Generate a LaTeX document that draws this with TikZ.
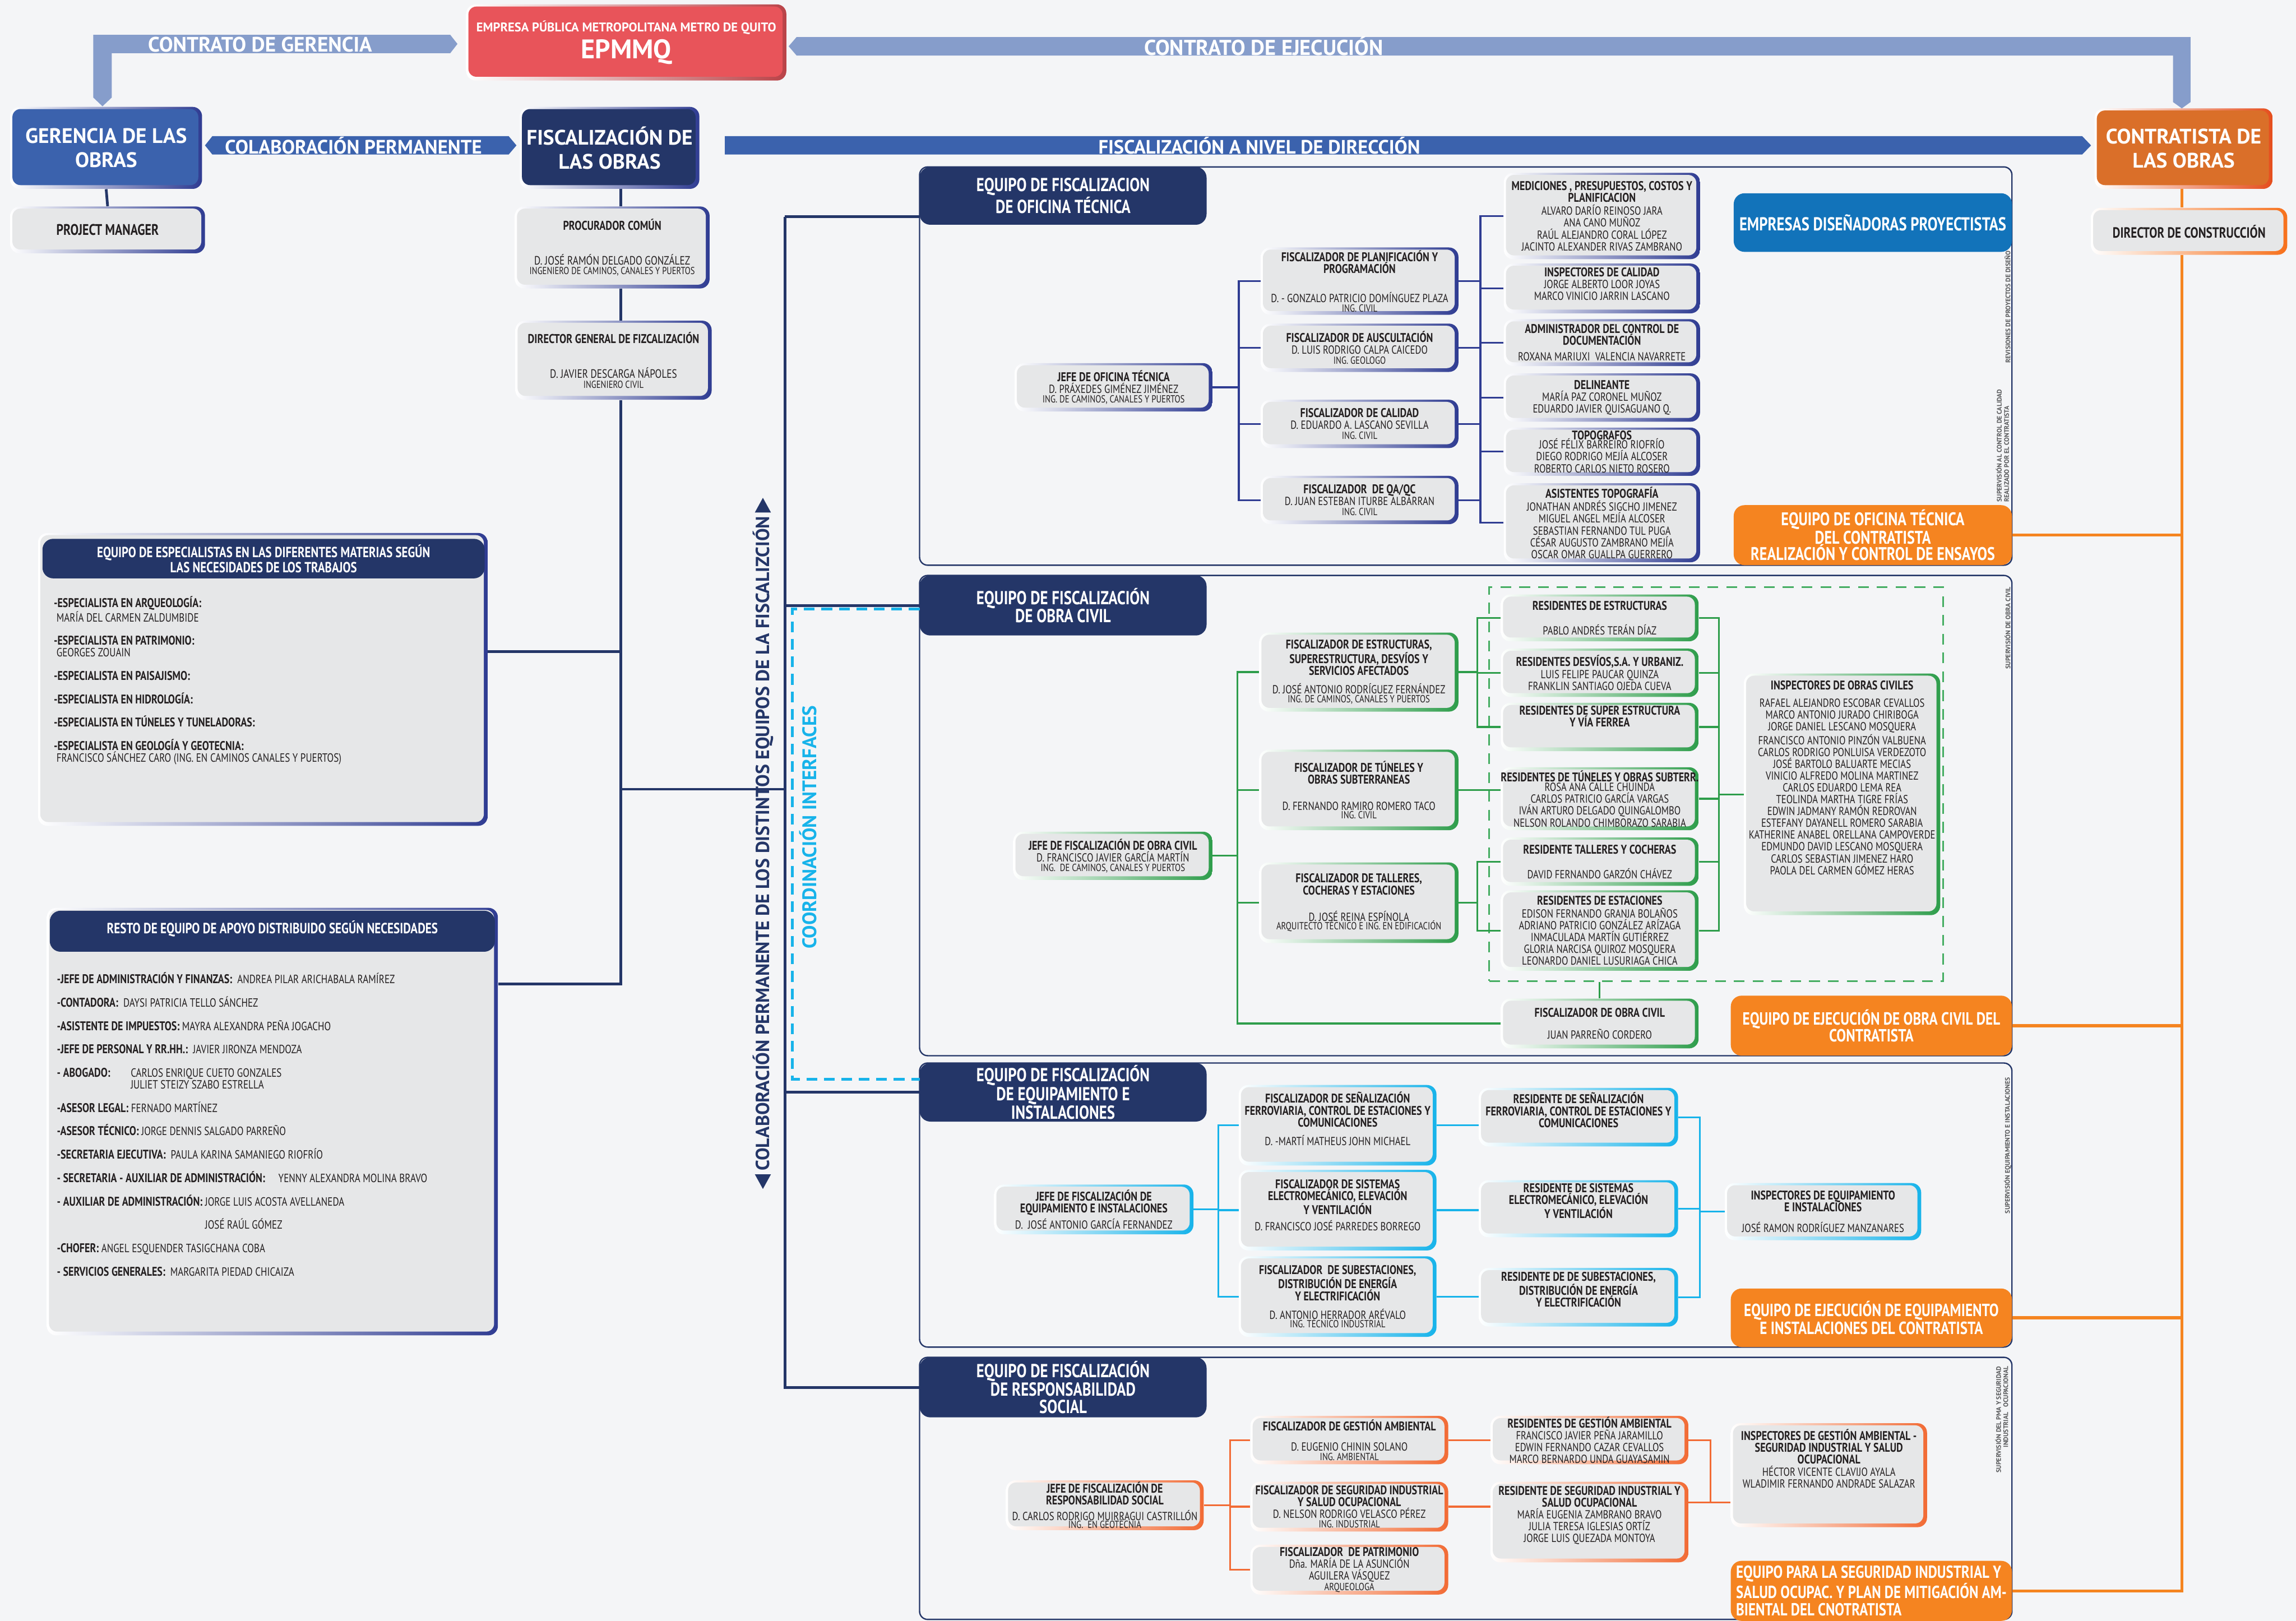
\documentclass[tikz,border=0pt]{standalone}
\usepackage{fontspec}
\setmainfont{PT Sans}
\newfontfamily\cnd[FakeStretch=0.8]{PT Sans}
\usetikzlibrary{positioning}

\definecolor{bgc}{HTML}{F4F5F7}
\definecolor{navyd}{HTML}{243668}
\definecolor{navyb}{HTML}{2F3C92}
\definecolor{blueM}{HTML}{3B62AD}
\definecolor{blueL}{HTML}{869DCB}
\definecolor{redE}{HTML}{E8545A}
\definecolor{orC}{HTML}{DA6F29}
\definecolor{orB}{HTML}{F58420}
\definecolor{blueE}{HTML}{1273BA}
\definecolor{boxg}{HTML}{E6E7E8}
\definecolor{grn}{HTML}{2E9D4B}
\definecolor{grnd}{HTML}{45AD62}
\definecolor{cyn}{HTML}{17B3EA}
\definecolor{ors}{HTML}{F26B35}
\definecolor{txt}{HTML}{231F20}
\definecolor{vgray}{HTML}{58595B}

\newcommand\pxu{0.03828cm}
\newcommand\bx{\cnd\fontsize{8.7}{8.8}\selectfont}
\newcommand\tb[1]{{\fontsize{9.4}{8.8}\selectfont\bfseries #1}}
\newcommand\sm{\fontsize{7.7}{8}\selectfont}

\begin{document}
\begin{tikzpicture}[x=0.03828cm, y=-0.03828cm,
  every node/.style={text=txt},
  place/.style n args={4}{at={({(#1+#3)/2},{(#2+#4)/2})},
      minimum width={(#3-#1)*\pxu}, minimum height={(#4-#2)*\pxu}},
  gbox/.style 2 args={rounded corners=7pt, inner sep=0pt, align=center,
      left color=white, right color=#1,
      path picture={\fill[#2, rounded corners=6pt]
        ([shift={(1.6pt,2.8pt)}]path picture bounding box.south west) rectangle
        ([shift={(-2.8pt,-1.6pt)}]path picture bounding box.north east);}},
  nv/.style={gbox={navyb}{boxg}, font=\bx},
  gr/.style={gbox={grn}{boxg}, font=\bx},
  cy/.style={gbox={cyn}{boxg}, font=\bx},
  os/.style={gbox={ors}{boxg}, font=\bx},
  bigtxt/.style={text=white, font=\fontsize{15.6}{18}\selectfont\bfseries},
  bandtxt/.style={text=white, inner sep=0pt, font=\fontsize{15.5}{16}\selectfont\bfseries},
  hdr/.style={fill=navyd, rounded corners=8pt, text=white, align=center, inner sep=0pt,
      font=\cnd\fontsize{14}{13.4}\selectfont\bfseries},
  orbox/.style={fill=orB, rounded corners=8pt, text=white, align=center, inner sep=0pt,
      font=\cnd\fontsize{13.6}{12.4}\selectfont\bfseries},
  panel/.style={draw=navyd, line width=1pt, rounded corners=6pt},
  navyline/.style={draw=navyd, line width=2pt},
  otline/.style={draw=navyb, line width=1.3pt},
  ocline/.style={draw=grn, line width=1.3pt},
  eqline/.style={draw=cyn, line width=1.3pt},
  rsline/.style={draw=ors, line width=1.3pt},
  orline/.style={draw=orB, line width=2.2pt},
  sidetxt/.style={rotate=90, inner sep=0pt, text=vgray, font=\fontsize{4.9}{5.4}\selectfont\bfseries},
  listtxt/.style={anchor=north west, align=left, inner sep=0pt, font=\cnd\fontsize{8.9}{8.7}\selectfont}]

\fill[bgc] (0,0) rectangle (1568,1107);
\useasboundingbox (0,0) rectangle (1568,1107);

% contract bands
\fill[blueL] (63.7,23.8) -- (307.5,23.8) -- (312.4,30) -- (307.5,36.3) -- (76.3,36.3)
  -- (76.3,66.6) -- (70,72.6) -- (63.7,66.6) -- cycle;
\fill[blueL] (538.6,31.6) -- (544,25.3) -- (1496,25.3) -- (1496,69.7) -- (1490,74)
  -- (1484,69.7) -- (1484,37.9) -- (544,37.9) -- cycle;
\fill[blueM] (140,99.3) -- (145,93) -- (347.4,93) -- (352.7,99.3) -- (347.4,105.5) -- (145,105.5) -- cycle;
\fill[blueM] (495,93) -- (1422,93) -- (1428,99.3) -- (1422,105.5) -- (495,105.5) -- cycle;
\node[bandtxt] (tGer) at (177.6,30.4) {CONTRATO DE GERENCIA};
\node[bandtxt, font=\fontsize{16}{16}\selectfont\bfseries] (tEje) at (863,31.6) {CONTRATO DE EJECUCIÓN};
\node[bandtxt, font=\fontsize{14.5}{15}\selectfont\bfseries] (tCol) at (241.4,99.3) {COLABORACIÓN PERMANENTE};
\node[bandtxt, font=\fontsize{14.4}{15}\selectfont\bfseries] (tDir) at (860,99.3) {FISCALIZACIÓN A NIVEL DE DIRECCIÓN};

% top level
\node[gbox={redE!80!black}{redE}, place={318.4}{3}{537}{55}, text=white] (epmmq)
  {{\fontsize{9.4}{10}\selectfont\bfseries EMPRESA PÚBLICA METROPOLITANA METRO DE QUITO}\\[3pt]{\fontsize{20}{20}\selectfont\bfseries EPMMQ}};
\node[gbox={navyb}{blueM}, place={7}{73}{138}{129}, bigtxt] (ger) {GERENCIA DE LAS\\OBRAS};
\node[gbox={navyb}{navyd}, place={355}{73}{477.6}{129}, bigtxt] (fisc) {FISCALIZACIÓN DE\\LAS OBRAS};
\node[gbox={orC!70!red}{orC}, place={1430.5}{74}{1552}{129}, bigtxt] (cont) {CONTRATISTA DE\\LAS OBRAS};
\node[nv, place={7}{141}{140}{173}, font=\cnd\fontsize{11.4}{12}\selectfont\bfseries] (pm) {PROJECT MANAGER};
\node[nv, place={351.6}{141}{484.6}{197}] (proc)
  {{\fontsize{9.5}{10}\selectfont\bfseries PROCURADOR COMÚN}\\[17pt]{\fontsize{9}{9.5}\selectfont D. JOSÉ RAMÓN DELGADO GONZÁLEZ}\\[-1.4pt]{\fontsize{7.6}{8}\selectfont INGENIERO DE CAMINOS, CANALES Y PUERTOS}};
\node[nv, place={352}{219}{486}{273}] (dirg)
  {{\fontsize{9.5}{10}\selectfont\bfseries DIRECTOR GENERAL DE FIZCALIZACIÓN}\\[17pt]{\fontsize{9}{9.5}\selectfont D. JAVIER DESCARGA NÁPOLES}\\[-1.4pt]{\fontsize{7.6}{8}\selectfont INGENIERO CIVIL}};
\node[gbox={orB!85!red}{boxg}, place={1428}{142}{1562}{174}, font=\cnd\fontsize{11}{12}\selectfont\bfseries] (dirc) {DIRECTOR DE CONSTRUCCIÓN};

% left support teams
\node[nv, place={26}{364}{333}{564}] (esp) {};
\node[hdr, place={29}{368}{331}{395}, font=\cnd\fontsize{10.9}{10}\selectfont\bfseries] (espH)
  {EQUIPO DE ESPECIALISTAS EN LAS DIFERENTES MATERIAS SEGÚN\\LAS NECESIDADES DE LOS TRABAJOS};
\node[listtxt] (espL) at (36.6,407) {%
  \tb{-ESPECIALISTA EN ARQUEOLOGÍA:}\\
  \hspace*{2pt}MARÍA DEL CARMEN ZALDUMBIDE\\[8.7pt]
  \tb{-ESPECIALISTA EN PATRIMONIO:}\\
  \hspace*{2pt}GEORGES ZOUAIN\\[8.7pt]
  \tb{-ESPECIALISTA EN PAISAJISMO:}\\[8.7pt]
  \tb{-ESPECIALISTA EN HIDROLOGÍA:}\\[8.7pt]
  \tb{-ESPECIALISTA EN TÚNELES Y TUNELADORAS:}\\[8.7pt]
  \tb{-ESPECIALISTA EN GEOLOGÍA Y GEOTECNIA:}\\
  \hspace*{2pt}FRANCISCO SÁNCHEZ CARO (ING. EN CAMINOS CANALES Y PUERTOS)};

\node[nv, place={32}{620}{340}{912}] (resto) {};
\node[hdr, place={34}{622}{338}{650}, font=\cnd\fontsize{11}{10}\selectfont\bfseries] (restoH)
  {RESTO DE EQUIPO DE APOYO DISTRIBUIDO SEGÚN NECESIDADES\\[-4pt]\mbox{}};
\node[listtxt] (restoL) at (38.7,664) {%
  \tb{-JEFE DE ADMINISTRACIÓN Y FINANZAS:}\ \ ANDREA PILAR ARICHABALA RAMÍREZ\\[8.7pt]
  \tb{-CONTADORA:}\ \ DAYSI PATRICIA TELLO SÁNCHEZ\\[8.7pt]
  \tb{-ASISTENTE DE IMPUESTOS:} MAYRA ALEXANDRA PEÑA JOGACHO\\[8.7pt]
  \tb{-JEFE DE PERSONAL Y RR.HH.:}\ \ JAVIER JIRONZA MENDOZA\\[8.7pt]
  \makebox[1.93cm][l]{\tb{- ABOGADO:}}CARLOS ENRIQUE CUETO GONZALES\\
  \hspace*{1.93cm}JULIET STEIZY SZABO ESTRELLA\\[8.7pt]
  \tb{-ASESOR LEGAL:} FERNADO MARTÍNEZ\\[8.7pt]
  \tb{-ASESOR TÉCNICO:} JORGE DENNIS SALGADO PARREÑO\\[8.7pt]
  \tb{-SECRETARIA EJECUTIVA:}\ \ PAULA KARINA SAMANIEGO RIOFRÍO\\[8.7pt]
  \tb{- SECRETARIA - AUXILIAR DE ADMINISTRACIÓN:}\hspace{0.35cm}YENNY ALEXANDRA MOLINA BRAVO\\[8.7pt]
  \tb{- AUXILIAR DE ADMINISTRACIÓN:} JORGE LUIS ACOSTA AVELLANEDA\\[8.7pt]
  \phantom{\tb{- AUXILIAR DE ADMINISTRACIÓN:} }JOSÉ RAÚL GÓMEZ\\[8.7pt]
  \tb{-CHOFER:} ANGEL ESQUENDER TASIGCHANA COBA\\[8.7pt]
  \tb{- SERVICIOS GENERALES:}\ \ MARGARITA PIEDAD CHICAIZA};

% team panels
\draw[panel] (628,114) rectangle (1374,386);
\draw[panel] (628,393) rectangle (1374,721);
\draw[panel] (628,726) rectangle (1374,920);
\draw[panel] (628,927) rectangle (1374,1106);
\node[hdr, place={628}{114}{824}{153.5}] (hdOT) {EQUIPO DE FISCALIZACION\\DE OFICINA TÉCNICA};
\node[hdr, place={628}{393}{824}{434}] (hdOC) {EQUIPO DE FISCALIZACIÓN\\DE OBRA CIVIL};
\node[hdr, place={628}{726}{824}{766}, font=\cnd\fontsize{14}{13}\selectfont\bfseries] (hdEQ) {EQUIPO DE FISCALIZACIÓN\\DE EQUIPAMIENTO E\\INSTALACIONES};
\node[hdr, place={628}{927}{824}{968}, font=\cnd\fontsize{14}{13}\selectfont\bfseries] (hdRS) {EQUIPO DE FISCALIZACIÓN\\DE RESPONSABILIDAD\\SOCIAL};

% collaboration column
\node[rotate=90, text=navyd, font=\fontsize{14.1}{14}\selectfont\bfseries, inner sep=0pt] (colab) at (521,576)
  {COLABORACIÓN PERMANENTE DE LOS DISTINTOS EQUIPOS DE LA FISCALIZCIÓN};
\fill[navyd] (515.5,350) -- (526.5,350) -- (521,340) -- cycle;
\fill[navyd] (515.5,802) -- (526.5,802) -- (521,812) -- cycle;
\draw[cyn, line width=2pt, dash pattern=on 8pt off 5pt] (628,416) -- (541,416) -- (541,737) -- (628,737);
\node[rotate=90, text=cyn, font=\fontsize{14.6}{15}\selectfont\bfseries, inner sep=0pt] (coord) at (552,565) {COORDINACIÓN INTERFACES};

% oficina tecnica
\node[nv, place={693}{248}{828}{281}] (jefeOT)
  {\tb{JEFE DE OFICINA TÉCNICA}\\D. PRÁXEDES GIMÉNEZ JIMÉNEZ\\[-1.5pt]{\sm ING. DE CAMINOS, CANALES Y PUERTOS}};
\node[nv, place={861}{169}{996}{215}] (fisPlan)
  {\tb{FISCALIZADOR DE PLANIFICACIÓN Y}\\\tb{PROGRAMACIÓN}\\[13pt]D. - GONZALO PATRICIO DOMÍNGUEZ PLAZA\\[-2pt]{\sm ING. CIVIL}};
\node[nv, place={861}{221}{996}{254}] (fisAus)
  {\tb{FISCALIZADOR DE AUSCULTACIÓN}\\D. LUIS RODRIGO CALPA CAICEDO\\[-1.5pt]{\sm ING. GEOLOGO}};
\node[nv, place={861}{273}{996}{306}] (fisCal)
  {\tb{FISCALIZADOR DE CALIDAD}\\D. EDUARDO A. LASCANO SEVILLA\\[-1.5pt]{\sm ING. CIVIL}};
\node[nv, place={861}{325}{996}{358}] (fisQA)
  {\tb{FISCALIZADOR \ DE QA/QC}\\D. JUAN ESTEBAN ITURBE ALBARRAN\\[-1.5pt]{\sm ING. CIVIL}};
\node[nv, place={1027}{118}{1161}{177}] (medi)
  {\tb{MEDICIONES , PRESUPUESTOS, COSTOS Y}\\\tb{PLANIFICACION}\\[1pt]ALVARO DARÍO REINOSO JARA\\ANA CANO MUÑOZ\\RAÚL ALEJANDRO CORAL LÓPEZ\\JACINTO ALEXANDER RIVAS ZAMBRANO};
\node[nv, place={1027}{180}{1161}{214}] (inspCal)
  {\tb{INSPECTORES DE CALIDAD}\\JORGE ALBERTO LOOR JOYAS\\MARCO VINICIO JARRIN LASCANO\\[-2.3pt]\mbox{}};
\node[nv, place={1027}{218}{1161}{250}] (admDoc)
  {\tb{ADMINISTRADOR DEL CONTROL DE}\\\tb{DOCUMENTACIÓN}\\[3pt]ROXANA MARIUXI \ VALENCIA NAVARRETE};
\node[nv, place={1027}{255}{1161}{288}] (delin)
  {\tb{DELINEANTE}\\MARÍA PAZ CORONEL MUÑOZ\\EDUARDO JAVIER QUISAGUANO Q.};
\node[nv, place={1027}{292}{1161}{325}] (topo)
  {\tb{TOPOGRAFOS}\\[-2pt]JOSÉ FÉLIX BARREIRO RIOFRÍO\\DIEGO RODRIGO MEJÍA ALCOSER\\ROBERTO CARLOS NIETO ROSERO};
\node[nv, place={1027}{330}{1161}{384}] (asist)
  {\tb{ASISTENTES TOPOGRAFÍA}\\[1pt]JONATHAN ANDRÉS SIGCHO JIMENEZ\\MIGUEL ANGEL MEJÍA ALCOSER\\SEBASTIAN FERNANDO TUL PUGA\\CÉSAR AUGUSTO ZAMBRANO MEJÍA\\OSCAR OMAR GUALLPA GUERRERO};
\node[fill=blueE, rounded corners=8pt, text=white, inner sep=0pt, place={1184}{132}{1374}{172},
  font=\cnd\fontsize{13.9}{13}\selectfont\bfseries] (emp) {EMPRESAS DISEÑADORAS PROYECTISTAS};
\node[orbox, place={1184}{345}{1374}{386}] (orOT) {EQUIPO DE OFICINA TÉCNICA\\DEL CONTRATISTA\\REALIZACIÓN Y CONTROL DE ENSAYOS};
\node[sidetxt, anchor=west] (svRev) at (1371,248) {REVISIONES DE PROYECTOS DE DISEÑO};
\node[sidetxt, anchor=west, align=left] (svCal) at (1367.5,343) {SUPERVISIÓN AL CONTROL DE CALIDAD\\REALIZADO POR EL CONTRATISTA};

\coordinate (brOT) at (846,264.5);
\coordinate (brOT2) at (1011,264);
\draw[otline] (jefeOT.east) -- (brOT);
\foreach \n in {fisPlan,fisAus,fisCal,fisQA} {
  \draw[otline] (\n.west) -| (brOT);
  \draw[otline] (\n.east) -| (brOT2);
}
\foreach \n in {medi,inspCal,admDoc,delin,topo,asist}
  \draw[otline] (\n.west) -| (brOT2);

% obra civil
\node[draw=grnd, line width=1.2pt, dash pattern=on 8pt off 6pt, place={1017}{401}{1327}{670}] (dashOC) {};
\node[gr, place={692}{568}{828}{601}] (jefeOC)
  {\tb{JEFE DE FISCALIZACIÓN DE OBRA CIVIL}\\D. FRANCISCO JAVIER GARCÍA MARTÍN\\[-1.5pt]{\sm ING. \ DE CAMINOS, CANALES Y PUERTOS}};
\node[gr, place={860}{432}{996}{486}] (fisEst)
  {\tb{FISCALIZADOR DE ESTRUCTURAS,}\\\tb{SUPERESTRUCTURA, DESVÍOS Y}\\\tb{SERVICIOS AFECTADOS}\\[5pt]D. JOSÉ ANTONIO RODRÍGUEZ FERNÁNDEZ\\[-2pt]{\sm ING. DE CAMINOS, CANALES Y PUERTOS}};
\node[gr, place={860}{512}{996}{567}] (fisTun)
  {\tb{FISCALIZADOR DE TÚNELES Y}\\\tb{OBRAS SUBTERRANEAS}\\[11pt]D. FERNANDO RAMIRO ROMERO TACO\\[-2.5pt]{\sm ING. CIVIL}};
\node[gr, place={860}{589}{996}{644}] (fisTal)
  {\tb{FISCALIZADOR DE TALLERES,}\\\tb{COCHERAS Y ESTACIONES}\\[11pt]D. JOSÉ REINA ESPÍNOLA\\[-2.5pt]{\sm ARQUITECTO TÉCNICO E ING. EN EDIFICACIÓN}};
\node[gr, place={1025}{406}{1160}{438}] (resEst)
  {\tb{RESIDENTES DE ESTRUCTURAS}\\[9.7pt]PABLO ANDRÉS TERÁN DÍAZ};
\node[gr, place={1025}{443}{1160}{476}] (resDes)
  {\tb{RESIDENTES DESVÍOS,S.A. Y URBANIZ.}\\LUIS FELIPE PAUCAR QUINZA\\FRANKLIN SANTIAGO OJEDA CUEVA};
\node[gr, place={1025}{480}{1160}{513}] (resSup)
  {\tb{RESIDENTES DE SUPER ESTRUCTURA}\\\tb{Y VÍA FERREA}\\[7pt]\mbox{}};
\node[gr, place={1025}{524}{1160}{567}] (resTun)
  {\tb{RESIDENTES DE TÚNELES Y OBRAS SUBTERR.}\\[-1.5pt]ROSA ANA CALLE CHUINDA\\CARLOS PATRICIO GARCÍA VARGAS\\IVÁN ARTURO DELGADO QUINGALOMBO\\NELSON ROLANDO CHIMBORAZO SARABIA};
\node[gr, place={1025}{572}{1160}{605}] (resTal)
  {\tb{RESIDENTE TALLERES Y COCHERAS}\\[9.7pt]DAVID FERNANDO GARZÓN CHÁVEZ};
\node[gr, place={1025}{608}{1160}{663}] (resEsta)
  {\tb{RESIDENTES DE ESTACIONES}\\[1pt]EDISON FERNANDO GRANJA BOLAÑOS\\ADRIANO PATRICIO GONZÁLEZ ARÍZAGA\\INMACULADA MARTÍN GUTIÉRREZ\\GLORIA NARCISA QUIROZ MOSQUERA\\LEONARDO DANIEL LUSURIAGA CHICA};
\node[gr, place={1025}{682}{1160}{716}] (fisOC)
  {\tb{FISCALIZADOR DE OBRA CIVIL}\\[7.5pt]JUAN PARREÑO CORDERO};
\node[gr, place={1191}{460}{1325}{625}] (inspOC)
  {\tb{INSPECTORES DE OBRAS CIVILES}\\[4pt]RAFAEL ALEJANDRO ESCOBAR CEVALLOS\\MARCO ANTONIO JURADO CHIRIBOGA\\JORGE DANIEL LESCANO MOSQUERA\\FRANCISCO ANTONIO PINZÓN VALBUENA\\CARLOS RODRIGO PONLUISA VERDEZOTO\\JOSÉ BARTOLO BALUARTE MECIAS\\VINICIO ALFREDO MOLINA MARTINEZ\\CARLOS EDUARDO LEMA REA\\TEOLINDA MARTHA TIGRE FRÍAS\\EDWIN JADMANY RAMÓN REDROVAN\\ESTEFANY DAYANELL ROMERO SARABIA\\KATHERINE ANABEL ORELLANA CAMPOVERDE\\EDMUNDO DAVID LESCANO MOSQUERA\\CARLOS SEBASTIAN JIMENEZ HARO\\PAOLA DEL CARMEN GÓMEZ HERAS\\[16pt]\mbox{}};
\node[orbox, place={1182}{680}{1374}{721}, font=\cnd\fontsize{13.1}{12.5}\selectfont\bfseries] (orOC)
  {EQUIPO DE EJECUCIÓN DE OBRA CIVIL DEL\\CONTRATISTA};
\node[sidetxt, anchor=west] (svOC) at (1371,457) {SUPERVISIÓN DE OBRA CIVIL};

\coordinate (brOC) at (845,584.5);
\coordinate (brE) at (1009,459);
\coordinate (brT) at (1009,616.5);
\coordinate (brR) at (1174,542.5);
\draw[ocline] (jefeOC.east) -- (brOC);
\foreach \n in {fisEst,fisTun,fisTal,fisOC}
  \draw[ocline] (\n.west) -| (brOC);
\draw[ocline] (fisEst.east) -- (brE);
\foreach \n in {resEst,resDes,resSup}
  \draw[ocline] (\n.west) -| (brE);
\draw[ocline] (fisTun.east) -- (fisTun.east -| resTun.west);
\draw[ocline] (fisTal.east) -- (brT);
\foreach \n in {resTal,resEsta}
  \draw[ocline] (\n.west) -| (brT);
\foreach \n in {resEst,resDes,resSup,resTun,resTal,resEsta}
  \draw[ocline] (\n.east) -| (brR);
\draw[ocline] (inspOC.west) -- (brR);
\draw[ocline] (fisOC.north) -- (fisOC.north |- dashOC.south);

% equipamiento
\node[cy, place={679}{809}{815}{843}] (jefeEQ)
  {\tb{JEFE DE FISCALIZACIÓN DE}\\\tb{EQUIPAMIENTO E INSTALACIONES}\\[1.8pt]D. \ JOSÉ ANTONIO GARCÍA FERNANDEZ};
\node[cy, place={846}{741}{981}{796}] (fisSen)
  {\tb{FISCALIZADOR DE SEÑALIZACIÓN}\\\tb{FERROVIARIA, CONTROL DE ESTACIONES Y}\\\tb{COMUNICACIONES}\\[5pt]D. -MARTÍ MATHEUS JOHN MICHAEL\\[1pt]\mbox{}};
\node[cy, place={846}{799}{981}{854}] (fisSis)
  {\tb{FISCALIZADOR DE SISTEMAS}\\\tb{ELECTROMECÁNICO, ELEVACIÓN}\\\tb{Y VENTILACIÓN}\\[3pt]D. FRANCISCO JOSÉ PARREDES BORREGO\\[-1pt]\mbox{}};
\node[cy, place={846}{858}{981}{913}] (fisSub)
  {\tb{FISCALIZADOR \ DE SUBESTACIONES,}\\\tb{DISTRIBUCIÓN DE ENERGÍA}\\\tb{Y ELECTRIFICACIÓN}\\[5pt]D. ANTONIO HERRADOR ARÉVALO\\[-2.3pt]{\sm ING. TÉCNICO INDUSTRIAL}};
\node[cy, place={1010}{743}{1146}{783}] (resSen)
  {\tb{RESIDENTE DE SEÑALIZACIÓN}\\\tb{FERROVIARIA, CONTROL DE ESTACIONES Y}\\\tb{COMUNICACIONES}\\[2pt]\mbox{}};
\node[cy, place={1010}{806}{1146}{845}] (resSis)
  {\tb{RESIDENTE DE SISTEMAS}\\\tb{ELECTROMECÁNICO, ELEVACIÓN}\\\tb{Y VENTILACIÓN}\\[3pt]\mbox{}};
\node[cy, place={1010}{866}{1146}{906}] (resSub)
  {\tb{RESIDENTE DE DE SUBESTACIONES,}\\\tb{DISTRIBUCIÓN DE ENERGÍA}\\\tb{Y ELECTRIFICACIÓN}\\[3pt]\mbox{}};
\node[cy, place={1178}{808}{1312}{847}] (inspEQ)
  {\tb{INSPECTORES DE EQUIPAMIENTO}\\\tb{E INSTALACIONES}\\[6.7pt]JOSÉ RAMON RODRÍGUEZ MANZANARES};
\node[orbox, place={1182}{880}{1374}{920}, font=\cnd\fontsize{13.1}{13}\selectfont\bfseries] (orEQ)
  {EQUIPO DE EJECUCIÓN DE EQUIPAMIENTO\\E INSTALACIONES DEL CONTRATISTA};
\node[sidetxt, anchor=west] (svEQ) at (1371,829) {SUPERVISIÓN EQUIPAMIENTO E INSTALACIONES};

\coordinate (brEQ) at (832,826);
\coordinate (brEQ2) at (1161,827.5);
\draw[eqline] (jefeEQ.east) -- (brEQ);
\foreach \n in {fisSen,fisSis,fisSub}
  \draw[eqline] (\n.west) -| (brEQ);
\draw[eqline] (fisSen.east) -- (fisSen.east -| resSen.west);
\draw[eqline] (fisSis.east) -- (fisSis.east -| resSis.west);
\draw[eqline] (fisSub.east) -- (fisSub.east -| resSub.west);
\foreach \n in {resSen,resSis,resSub}
  \draw[eqline] (\n.east) -| (brEQ2);
\draw[eqline] (inspEQ.west) -- (brEQ2);

% responsabilidad social
\node[os, place={687}{1011}{822}{1045}] (jefeRS)
  {\tb{JEFE DE FISCALIZACIÓN DE}\\\tb{RESPONSABILIDAD SOCIAL}\\[2.6pt]D. CARLOS RODRIGO MUIRRAGUI CASTRILLÓN\\[-2.8pt]{\sm ING. \ EN GEOTÉCNIA}};
\node[os, place={854}{967}{989}{1000}] (fisAmb)
  {\tb{FISCALIZADOR DE GESTIÓN AMBIENTAL}\\[6.2pt]D. EUGENIO CHININ SOLANO\\[-2pt]{\sm ING. AMBIENTAL}};
\node[os, place={854}{1012}{989}{1046}] (fisSeg)
  {\tb{FISCALIZADOR DE SEGURIDAD INDUSTRIAL}\\\tb{Y SALUD OCUPACIONAL}\\D. NELSON RODRIGO VELASCO PÉREZ\\[-1.7pt]{\sm ING. INDUSTRIAL}};
\node[os, place={854}{1055}{989}{1089}] (fisPat)
  {\tb{FISCALIZADOR \ DE PATRIMONIO}\\Dña. MARÍA DE LA ASUNCIÓN\\AGUILERA VÁSQUEZ\\[-1pt]{\sm ARQUEOLOGA}};
\node[os, place={1018}{967}{1153}{1000}] (resAmb)
  {\tb{RESIDENTES DE GESTIÓN AMBIENTAL}\\FRANCISCO JAVIER PEÑA JARAMILLO\\EDWIN FERNANDO CAZAR CEVALLOS\\MARCO BERNARDO UNDA GUAYASAMIN};
\node[os, place={1018}{1012}{1153}{1067}] (resSeg)
  {\tb{RESIDENTE DE SEGURIDAD INDUSTRIAL Y}\\\tb{SALUD OCUPACIONAL}\\MARÍA EUGENIA ZAMBRANO BRAVO\\JULIA TERESA IGLESIAS ORTÍZ\\JORGE LUIS QUEZADA MONTOYA\\[3pt]\mbox{}};
\node[os, place={1182}{972}{1316}{1043}] (inspRS)
  {\tb{INSPECTORES DE GESTIÓN AMBIENTAL -}\\\tb{SEGURIDAD INDUSTRIAL Y SALUD}\\\tb{OCUPACIONAL}\\HÉCTOR VICENTE CLAVIJO AYALA\\WLADIMIR FERNANDO ANDRADE SALAZAR\\[16pt]\mbox{}};
\node[orbox, align=left, place={1182}{1066}{1374}{1107}, font=\cnd\fontsize{13}{12.8}\selectfont\bfseries] (orRS)
  {EQUIPO PARA LA SEGURIDAD INDUSTRIAL Y\\SALUD OCUPAC. Y PLAN DE MITIGACIÓN AM-\\BIENTAL DEL CNOTRATISTA};
\node[sidetxt, anchor=east, align=right] (svRS) at (1367,933) {SUPERVISIÓN DEL PMA Y SEGURIDAD\\INDUSTRIAL \ \ OCUPACIONAL};

\coordinate (brRS) at (840,1028);
\coordinate (brRS2) at (1168,1026);
\draw[rsline] (jefeRS.east) -- (brRS);
\foreach \n in {fisAmb,fisSeg,fisPat}
  \draw[rsline] (\n.west) -| (brRS);
\draw[rsline] (fisAmb.east) -- (fisAmb.east -| resAmb.west);
\draw[rsline] (fisSeg.east) -- (fisSeg.east -| resSeg.west);
\draw[rsline] (resAmb.east) -| (brRS2) -- (brRS2 -| inspRS.west);
\draw[rsline] (resSeg.east |- brRS2) -- (brRS2);

% fiscalizacion spine
\coordinate (spL) at (424,672);
\coordinate (spT) at (536,148);
\coordinate (spM) at (536,539);
\coordinate (spB) at (536,947.5);
\coordinate (espC) at ([yshift=19*\pxu]esp.east);
\coordinate (restoC) at ([yshift=94*\pxu]resto.east);
\draw[navyline] (ger.south) -- (pm.north);
\draw[navyline] (fisc.south -| spL) -- (proc.north -| spL);
\draw[navyline] (proc.south -| spL) -- (dirg.north -| spL);
\draw[navyline] (dirg.south -| spL) -- (spL) -- (restoC);
\draw[navyline] (espC) -- (espC -| spL);
\draw[navyline] (spL |- spM) -- (spM);
\draw[navyline] (spT) -- (spB) -- (hdRS.west |- spB);
\draw[navyline] (spT) -- (hdOT.west |- spT);
\draw[navyline] (hdOC.west -| spT) -- (hdOC.west);
\draw[navyline] (hdEQ.west -| spT) -- (hdEQ.west);

% contractor line
\coordinate (orBot) at (1490,1086.5);
\draw[orline] (cont.south -| orBot) -- (dirc.north -| orBot);
\draw[orline] (dirc.south -| orBot) -- (orBot) -- (orRS.east);
\draw[orline] (orOT.east) -- (orOT.east -| orBot);
\draw[orline] (orOC.east) -- (orOC.east -| orBot);
\draw[orline] (orEQ.east) -- (orEQ.east -| orBot);
\end{tikzpicture}
\end{document}
